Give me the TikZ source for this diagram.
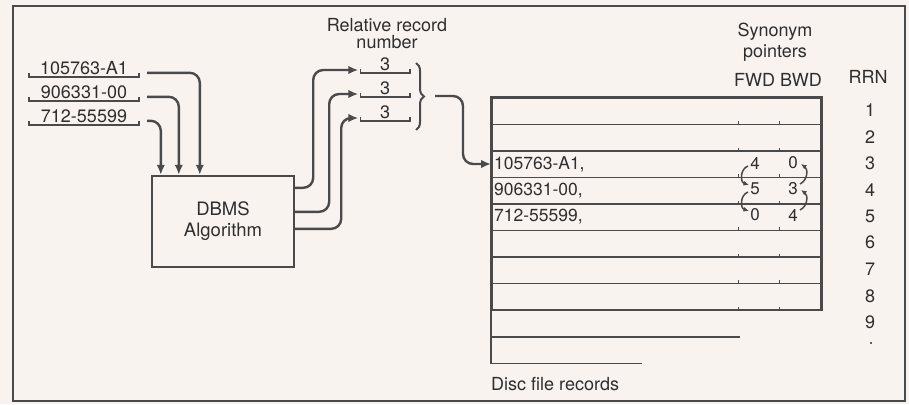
\documentclass[tikz,border=0pt]{standalone}
\usepackage{fontspec}
\setmainfont{TeX Gyre Heros}
\usetikzlibrary{arrows.meta,calc,decorations.pathreplacing}
\definecolor{ink}{HTML}{4A4A4A}
\definecolor{txt}{HTML}{2E2E2E}
\definecolor{paper}{HTML}{F8F3EF}
\begin{document}
\begin{tikzpicture}[x=1pt,y=-1pt,
  every node/.style={text=txt, font=\fontsize{18}{20}\selectfont},
  conn/.style={draw=ink, line width=2.4pt, rounded corners=10pt, -{Latex[length=10pt,width=8.5pt]}},
  fieldtxt/.style={inner sep=0pt, minimum height=18pt},
  bracketline/.style={draw=ink, line width=1.6pt},
  rowbox/.style={draw=ink, line width=1.5pt, inner sep=0pt, minimum width=329pt, minimum height=26.5pt, anchor=north west},
  rowtxt/.style={anchor=west, inner sep=0pt, font=\fontsize{17.5}{19}\selectfont},
  ptr/.style={inner sep=0pt, font=\fontsize{17}{19}\selectfont},
  tick/.style={draw=ink, line width=1pt},
  small/.style={draw=ink, line width=1.5pt, -{Latex[length=5.5pt,width=5pt]}}
]
\useasboundingbox (0,0) rectangle (909,404);
\fill[paper] (0,0) rectangle (909,404);
\draw[ink, line width=2.6pt] (13,6) rectangle (905,401);

% input keys
\node[fieldtxt, minimum width=110pt, anchor=south] (k1) at (84,77) {105763-A1};
\node[fieldtxt, minimum width=110pt, anchor=south] (k2) at (84,101) {906331-00};
\node[fieldtxt, minimum width=110pt, anchor=south] (k3) at (84,125) {712-55599};
\foreach \k in {k1,k2,k3}
  \draw[bracketline] ($(\k.south west)+(0,-4)$) -- (\k.south west) -- (\k.south east) -- ++(0,-4);

% DBMS box
\node[draw=ink, line width=2.4pt, minimum width=142pt, minimum height=91pt, align=center,
      font=\fontsize{18.5}{21}\selectfont] (dbms) at (223,221.5) {DBMS\\Algorithm};

\draw[conn] ($(k1.east)+(8,5)$) -| ($(dbms.north west)+(49,0)$);
\draw[conn] ($(k2.east)+(8,5)$) -| ($(dbms.north west)+(28,0)$);
\draw[conn] ($(k3.east)+(8,5)$) -| ($(dbms.north west)+(10,0)$);

% relative record numbers
\node (rrtitle) at (387,34) [align=center, font=\fontsize{18}{17}\selectfont] {Relative record\\number};
\node[fieldtxt, minimum width=49pt, anchor=south] (r1) at (385,73) {3};
\node[fieldtxt, minimum width=49pt, anchor=south] (r2) at (385,97) {3};
\node[fieldtxt, minimum width=49pt, anchor=south] (r3) at (385,121) {3};
\foreach \k in {r1,r2,r3}
  \draw[bracketline] ($(\k.south west)+(0,-4)$) -- (\k.south west) -- (\k.south east) -- ++(0,-4);

\draw[conn] ($(dbms.north east)+(0,13)$) -- ++(18,0) |- ($(r1.south west)+(-2,-3)$);
\draw[conn] ($(dbms.north east)+(0,37)$) -- ++(34,0) |- ($(r2.south west)+(-2,-3)$);
\draw[conn] ($(dbms.north east)+(0,54)$) -- ++(46,0) |- ($(r3.south west)+(-2,-3)$);

% brace
\draw[ink, line width=2pt, decorate, decoration={brace, amplitude=8pt}] (416,63) -- (416,130);
\coordinate (brtip) at (435,96);

% table rows
\foreach \i in {1,...,8}
  \node[rowbox] (row\i) at (491,{97+26.5*(\i-1)}) {};
\draw[draw=ink, line width=2.6pt] ($(row8.south west)+(0,53)$) -- (row1.north west) -- (row1.north east) -- (row8.south east);
\draw[bracketline] ($(row8.south west)+(0,26.5)$) -- ++(249,0);
\draw[bracketline] ($(row8.south west)+(0,53)$) -- ++(151,0);
\foreach \i in {1,...,8} {
  \draw[tick] ($(row\i.south west)+(247,0)$) -- ++(0,-4);
  \draw[tick] ($(row\i.south west)+(288,0)$) -- ++(0,-4);
}

\draw[conn] (brtip) -- ++(28,0) |- (row3.west);

\node[rowtxt] (t3) at ($(row3.west)+(3,0)$) {105763-A1,};
\node[rowtxt] (t4) at ($(row4.west)+(3,0)$) {906331-00,};
\node[rowtxt] (t5) at ($(row5.west)+(3,0)$) {712-55599,};

% synonym pointers
\node[ptr] (f3) at (755,163) {4};
\node[ptr] (f4) at (755,189) {5};
\node[ptr] (f5) at (755,215) {0};
\node[ptr] (b3) at (793,163) {0};
\node[ptr] (b4) at (793,189) {3};
\node[ptr] (b5) at (793,215) {4};

\draw[small] ($(f3)+(-7,3)$) .. controls ($(f3)+(-15,6)$) and ($(f4)+(-15,-7)$) .. ($(f4)+(-6,-4)$);
\draw[small] ($(f4)+(-7,3)$) .. controls ($(f4)+(-15,6)$) and ($(f5)+(-15,-7)$) .. ($(f5)+(-6,-4)$);
\draw[small] ($(b4)+(7,-5)$) .. controls ($(b4)+(15,-9)$) and ($(b3)+(15,6)$) .. ($(b3)+(8,1)$);
\draw[small] ($(b5)+(7,-5)$) .. controls ($(b5)+(15,-9)$) and ($(b4)+(15,6)$) .. ($(b4)+(8,1)$);

% headers
\node (syn) at (775,32) {Synonym};
\node (ptrs) at (775,53) {pointers};
\node (fb) at (778,80) {FWD BWD};
\node (rrn) at (868,77) {RRN};
\foreach \i in {1,...,9}
  \node (n\i) at (870,{110.25+26.5*(\i-1)}) {\i};
\fill[txt] (871,343) circle (1.2pt);

\node[anchor=west, inner sep=0pt] (disc) at (491,384) {Disc file records};
\end{tikzpicture}
\end{document}
